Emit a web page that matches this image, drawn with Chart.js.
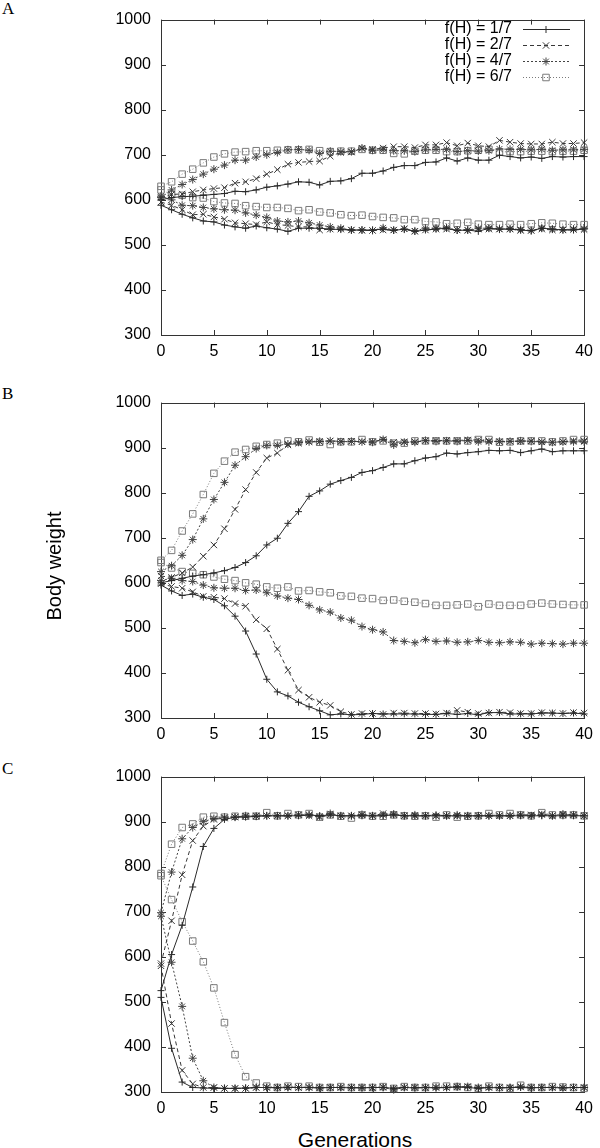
<!DOCTYPE html>
<html>
<head>
<meta charset="utf-8">
<script src="https://cdn.jsdelivr.net/npm/chart.js@4.4.1/dist/chart.umd.min.js"></script>
<style>
  body { margin: 0; width: 600px; height: 1148px; position: relative; background: #fff; overflow: hidden; font-family: "Liberation Sans", Arial, sans-serif; }
  canvas { position: absolute; left: 0; }
  .tag { position: absolute; left: 2px; font: 17px "Liberation Serif", serif; line-height: 17px; color: #000; }
  .ylab { position: absolute; width: 200px; height: 24px; line-height: 24px; text-align: center; font-size: 20px; transform: rotate(-90deg); }
  .xlab { position: absolute; width: 200px; height: 24px; line-height: 24px; text-align: center; font-size: 21px; }
</style>
</head>
<body>
<div class="tag" style="top:0px">A</div>
<div class="tag" style="top:385px">B</div>
<div class="tag" style="top:760px">C</div>
<canvas id="chartA" width="600" height="370" style="top:0px"></canvas>
<canvas id="chartB" width="600" height="370" style="top:383px"></canvas>
<canvas id="chartC" width="600" height="370" style="top:757px"></canvas>
<div class="ylab" style="left:-46px; top:554px">Body weight</div>
<div class="xlab" style="left:255px; top:1128px">Generations</div>
<script>
// generations 0..40
const generations = [0,1,2,3,4,5,6,7,8,9,10,11,12,13,14,15,16,17,18,19,20,21,22,23,24,25,26,27,28,29,30,31,32,33,34,35,36,37,38,39,40];
const legendLabels = ['f(H) = 1/7', 'f(H) = 2/7', 'f(H) = 4/7', 'f(H) = 6/7'];

// panel A
const aUp1  = [600,605,607,608,610,612,614,619,618,622,628,631,635,640,639,633,641,642,647,659,659,664,672,676,676,683,684,693,686,693,688,688,699,696,693,695,692,696,695,696,696];
const aLow1 = [588,578,568,560,553,551,544,540,537,542,538,535,530,537,537,537,535,534,533,533,533,535,532,535,530,533,535,537,532,533,530,537,535,535,533,531,537,535,533,533,535];
const aUp2  = [605,612,613,618,622,625,627,637,640,647,657,667,679,683,685,686,697,705,706,714,712,715,718,718,716,722,722,727,720,726,720,718,732,728,725,724,724,728,725,725,727];
const aLow2 = [595,588,578,567,568,562,557,549,547,545,551,545,543,540,540,533,535,535,533,532,532,533,533,536,530,533,535,535,533,532,535,535,535,535,532,532,535,533,533,534,534];
const aUp4  = [605,622,634,645,657,668,677,688,688,695,700,705,711,712,710,703,708,707,707,715,710,711,709,709,707,711,712,712,707,709,708,709,713,712,712,711,712,710,711,711,712];
const aLow4 = [608,600,588,587,583,580,578,577,571,566,561,553,551,553,549,544,540,537,533,533,532,538,533,535,531,537,537,538,533,533,537,537,535,536,534,532,537,535,534,535,536];
const aUp6  = [630,640,657,668,682,695,702,706,707,709,709,710,711,711,712,709,707,708,708,712,710,710,703,702,708,710,710,707,707,709,710,712,706,707,707,708,708,707,708,708,710];
const aLow6 = [622,612,610,605,604,596,593,592,587,585,583,583,581,576,578,573,571,567,565,566,563,561,560,556,556,552,551,547,548,550,546,545,545,546,545,547,549,548,546,545,545];

// panel B
const bUp1  = [600,605,610,615,618,622,627,634,645,660,684,699,732,758,792,804,819,827,834,845,849,856,864,864,871,877,880,888,886,889,891,894,893,894,889,893,897,891,893,893,893];
const bLow1 = [595,582,572,575,568,563,549,526,493,442,386,358,349,335,325,316,307,309,307,308,310,309,309,309,309,308,308,310,308,310,307,312,312,309,309,309,311,311,310,311,309];
const bUp2  = [615,612,622,635,659,684,720,763,807,845,877,888,906,910,913,913,915,914,914,913,913,918,912,913,913,915,916,916,916,917,917,915,913,914,914,915,913,912,913,915,915];
const bLow2 = [598,592,588,580,570,568,565,554,548,518,498,453,406,362,346,335,328,314,308,310,310,308,311,311,310,310,309,311,317,313,310,311,313,312,310,310,312,311,310,312,311];
const bUp4  = [625,638,661,696,742,785,823,861,880,898,905,905,908,912,913,914,915,913,914,913,912,918,906,912,912,916,914,915,914,916,913,913,914,914,915,914,912,912,913,913,913];
const bLow4 = [605,610,605,603,595,589,588,588,583,584,578,571,566,563,550,540,535,522,517,503,496,491,472,470,467,474,470,471,468,469,472,468,467,469,468,464,466,465,464,466,466];
const bUp6  = [650,672,715,753,796,843,870,890,896,903,907,910,915,913,917,912,907,913,913,918,913,915,910,910,915,915,915,915,915,915,918,918,912,913,915,915,915,913,915,918,918];
const bLow6 = [645,633,625,621,618,613,608,605,600,597,591,588,591,582,583,580,578,571,570,566,565,561,562,559,557,554,550,550,551,553,547,553,550,550,550,553,555,553,552,551,551];

// panel C
const cUp1  = [525,605,670,755,845,885,905,910,910,912,913,913,913,913,915,913,915,913,913,913,913,913,915,913,913,913,915,913,913,913,913,913,913,913,913,913,913,913,913,913,913];
const cLow1 = [510,397,322,310,309,308,308,308,309,310,310,309,310,310,310,309,310,310,309,309,310,310,308,310,309,310,309,310,311,310,308,310,309,310,310,309,310,310,309,310,310];
const cUp2  = [585,680,782,858,890,905,908,910,912,913,913,913,913,915,913,910,915,913,913,915,913,918,915,913,913,913,913,913,913,913,913,913,913,913,915,915,917,913,915,915,913];
const cLow2 = [580,452,348,318,310,310,308,308,308,310,310,310,311,310,310,309,310,310,310,310,309,311,308,310,310,309,310,310,311,312,309,310,310,309,311,310,310,310,309,310,310];
const cUp4  = [698,788,862,887,900,907,910,910,913,912,913,913,913,915,915,912,918,913,913,916,913,915,917,913,915,913,913,913,915,913,913,913,913,913,915,913,915,913,917,915,913];
const cLow4 = [690,588,490,375,325,310,308,308,308,310,310,310,310,310,310,310,310,310,310,310,310,310,305,310,310,310,310,310,312,312,310,310,310,310,312,310,310,310,310,310,310];
const cUp6  = [785,850,887,895,910,912,910,912,912,912,920,913,918,915,918,910,915,912,908,915,912,912,915,913,912,913,910,915,910,912,913,918,915,918,915,913,920,915,915,915,913];
const cLow6 = [780,727,678,635,589,531,454,383,334,320,313,310,313,312,313,310,310,312,310,310,310,312,308,312,310,310,313,313,312,310,308,313,310,308,315,310,310,312,311,310,308];

// look of each f(H) group (gnuplot-ish)
const looks = [
  { color: '#2a2a2a', dash: [],     marker: 'cross',    radius: 3.5 },
  { color: '#383838', dash: [4, 3], marker: 'crossRot', radius: 4.5 },
  { color: '#444444', dash: [2, 2], marker: 'star',     radius: 4 },
  { color: '#7a7a7a', dash: [1, 2], marker: 'rect',     radius: 4.6 }
];

function seriesSet(groups) {
  const out = [];
  groups.forEach((pair, i) => {
    const lk = looks[i];
    pair.forEach(values => {
      out.push({
        label: legendLabels[i],
        data: values,
        borderColor: lk.color,
        borderWidth: 1,
        borderDash: lk.dash,
        pointStyle: lk.marker,
        pointRadius: lk.radius,
        pointBorderColor: lk.color,
        pointBorderWidth: 1,
        pointBackgroundColor: 'rgba(0,0,0,0)',
        tension: 0,
        fill: false,
        clip: false
      });
    });
  });
  return out;
}

// box + inward ticks on all four sides
const frame = {
  id: 'frame',
  beforeDatasetsDraw(chart) {
    const { ctx, chartArea: a, scales: { x, y } } = chart;
    ctx.save();
    ctx.strokeStyle = '#333';
    ctx.lineWidth = 1;
    ctx.strokeRect(Math.round(a.left) + 0.5, Math.round(a.top) + 0.5, Math.round(a.right - a.left), Math.round(a.bottom - a.top));
    ctx.beginPath();
    x.ticks.forEach(t => {
      const px = Math.round(x.getPixelForValue(t.value)) + 0.5;
      ctx.moveTo(px, a.bottom); ctx.lineTo(px, a.bottom - 5);
      ctx.moveTo(px, a.top); ctx.lineTo(px, a.top + 5);
    });
    y.ticks.forEach(t => {
      const py = Math.round(y.getPixelForValue(t.value)) + 0.5;
      ctx.moveTo(a.left, py); ctx.lineTo(a.left + 5, py);
      ctx.moveTo(a.right, py); ctx.lineTo(a.right - 5, py);
    });
    ctx.stroke();
    ctx.restore();
  }
};

// gnuplot style key: text, then line sample with marker
const keyBox = {
  id: 'keyBox',
  afterDraw(chart, args, opts) {
    if (!opts.show) return;
    const ctx = chart.ctx;
    ctx.save();
    ctx.font = '16px "Liberation Sans", Arial, sans-serif';
    ctx.textAlign = 'right';
    ctx.textBaseline = 'middle';
    looks.forEach((lk, i) => {
      const yy = 29 + i * 16;
      ctx.fillStyle = '#000';
      ctx.fillText(legendLabels[i], 512, yy);
      ctx.strokeStyle = lk.color;
      ctx.lineWidth = 1;
      ctx.setLineDash(lk.dash);
      ctx.beginPath();
      ctx.moveTo(523, Math.round(yy) + 0.5);
      ctx.lineTo(570, Math.round(yy) + 0.5);
      ctx.stroke();
      ctx.setLineDash([]);
      ctx.fillStyle = 'rgba(0,0,0,0)';
      Chart.helpers.drawPoint(ctx, { pointStyle: lk.marker, radius: lk.radius, borderWidth: 1, rotation: 0 }, 546, Math.round(yy) + 0.5);
    });
    ctx.restore();
  }
};

function newChart(id, groups, showKey) {
  return new Chart(document.getElementById(id), {
    type: 'line',
    data: { labels: generations, datasets: seriesSet(groups) },
    options: {
      responsive: false,
      animation: false,
      layout: { padding: { left: 0, right: 10, top: 16, bottom: 0 } },
      plugins: {
        legend: { display: false },
        tooltip: { enabled: false },
        keyBox: { show: showKey }
      },
      scales: {
        x: {
          type: 'linear', min: 0, max: 40,
          grid: { display: false, drawTicks: false },
          border: { display: false },
          ticks: { stepSize: 5, maxRotation: 0, autoSkip: false, padding: 7, color: '#000', font: { family: '"Liberation Sans", Arial, sans-serif', size: 16 }, callback: v => String(v) },
          afterFit: s => { s.height = 35; }
        },
        y: {
          min: 300, max: 1000,
          grid: { display: false, drawTicks: false },
          border: { display: false },
          ticks: { stepSize: 100, padding: 10, color: '#000', font: { family: '"Liberation Sans", Arial, sans-serif', size: 16 }, callback: v => String(v) },
          afterFit: s => { s.width = 161; }
        }
      }
    },
    plugins: [frame, keyBox]
  });
}

newChart('chartA', [[aUp1, aLow1], [aUp2, aLow2], [aUp4, aLow4], [aUp6, aLow6]], true);
newChart('chartB', [[bUp1, bLow1], [bUp2, bLow2], [bUp4, bLow4], [bUp6, bLow6]], false);
newChart('chartC', [[cUp1, cLow1], [cUp2, cLow2], [cUp4, cLow4], [cUp6, cLow6]], false);
</script>
</body>
</html>
